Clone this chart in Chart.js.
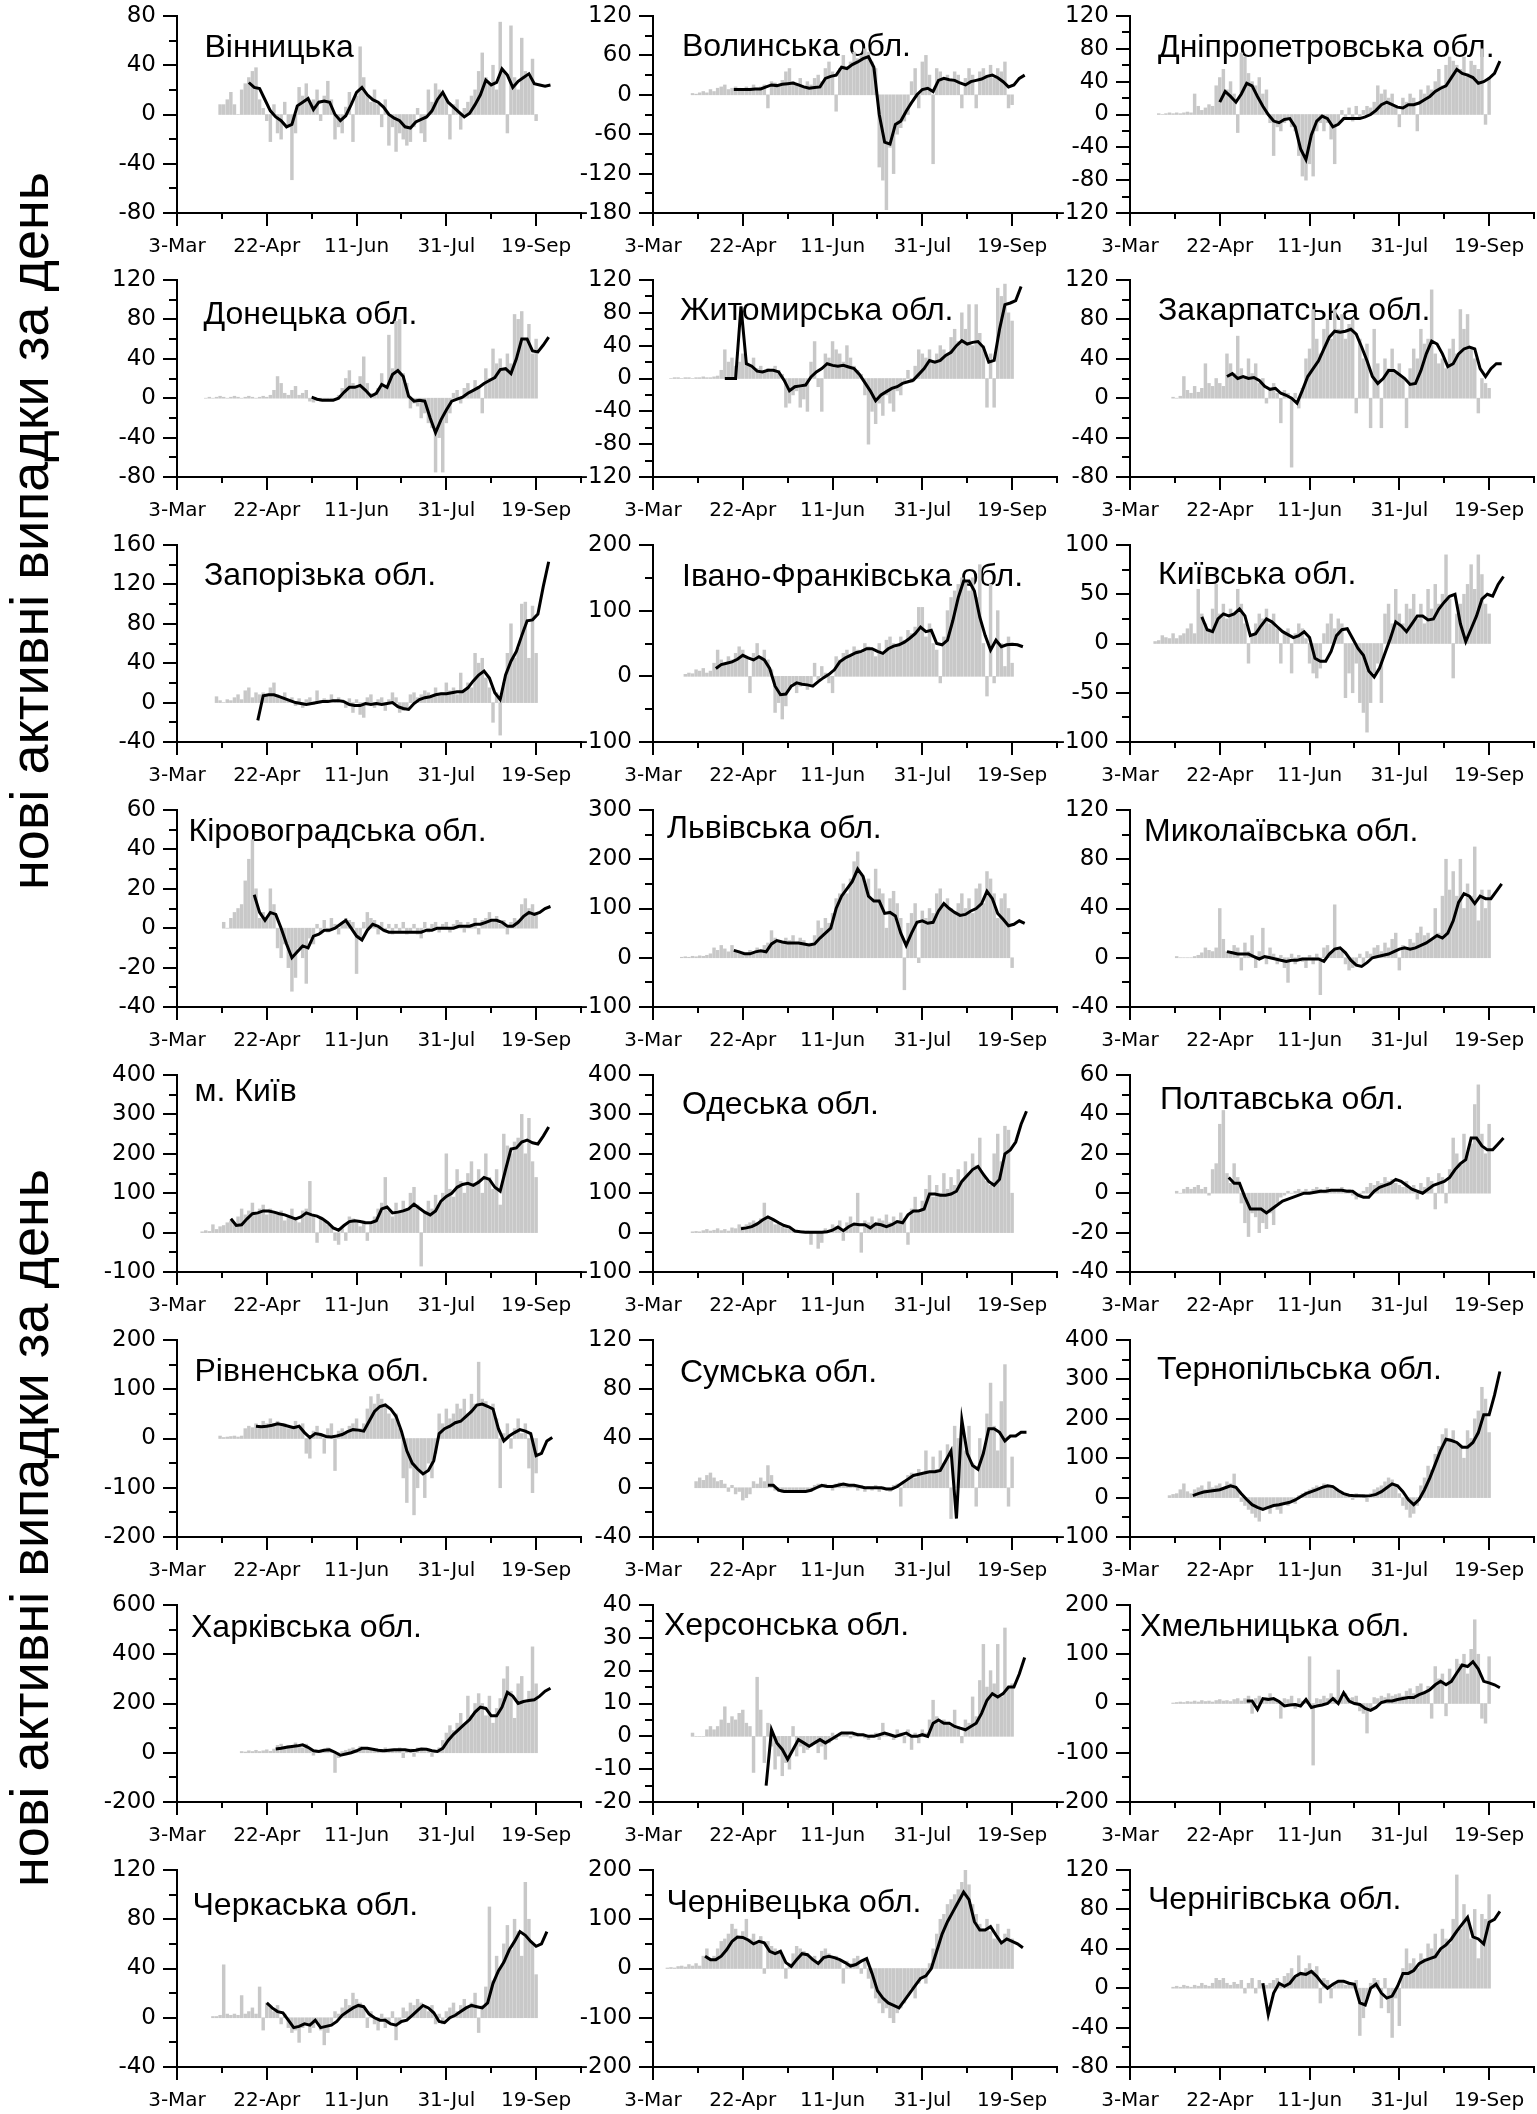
<!DOCTYPE html>
<html><head><meta charset="utf-8">
<script src="https://cdn.jsdelivr.net/npm/chart.js@4.4.1/dist/chart.umd.min.js"></script>
<style>
html,body{margin:0;padding:0;background:#fff;}
#page{position:relative;width:1537px;height:2114px;overflow:hidden;background:#fff;}
#page canvas{position:absolute;}
.ytitle{position:absolute;font-family:'Liberation Sans',Arial,sans-serif;font-size:54px;line-height:1;white-space:nowrap;color:#000;transform:translate(-50%,-50%) rotate(-90deg);}
</style></head>
<body><div id="page"></div>
<script>
// ---------------- DATA ----------------
const regionNames = ['Вінницька','Волинська обл.','Дніпропетровська обл.','Донецька обл.','Житомирська обл.','Закарпатська обл.','Запорізька обл.','Івано-Франківська обл.','Київська обл.','Кіровоградська обл.','Львівська обл.','Миколаївська обл.','м. Київ','Одеська обл.','Полтавська обл.','Рівненська обл.','Сумська обл.','Тернопільська обл.','Харківська обл.','Херсонська обл.','Хмельницька обл.','Черкаська обл.','Чернівецька обл.','Чернігівська обл.'];
const yAxisTitle = 'нові активні випадки за день';
const yMin   = [-80,-180,-120,-80,-120,-80,-40,-100,-100,-40,-100,-40,-100,-100,-40,-200,-40,-100,-200,-20,-200,-40,-200,-80];
const yMax   = [80,120,120,120,120,120,160,200,100,60,300,120,400,400,60,200,120,400,600,40,200,120,200,120];
const yMajor = [40,60,40,40,40,40,40,100,50,20,100,40,100,100,20,100,40,100,200,10,100,40,100,40];
const yMinor = [20,30,20,20,20,20,20,50,25,10,50,20,50,50,10,50,20,50,100,5,50,20,50,20];
// day index 0 = 3-Mar
const barStartDay  = [24,22,16,16,10,24,22,18,14,26,16,26,14,22,26,24,24,22,36,22,24,20,8,24];
const lineStartDay = [40,45,50,75,40,54,45,35,40,43,45,54,30,49,55,44,64,35,55,63,65,50,29,74];
const BAR_STEP_DAYS = 2, LINE_STEP_DAYS = 3;
const xMaxDay = 225;
const xTickDays = [0,25,50,75,100,125,150,175,200,225];
const xLabelDays = [0,50,100,150,200];
const xLabels = ['3-Mar','22-Apr','11-Jun','31-Jul','19-Sep'];

const barsVinnytska = [8,8,12,18,8,0,20,25,30,35,38,12,5,-5,-22,8,-15,-20,10,-10,-53,-15,22,15,25,10,12,20,-5,15,27,12,-20,-10,-15,6,18,-22,15,55,30,15,10,20,8,-10,12,-25,-10,-30,-15,-20,-25,-22,-10,5,-15,-22,20,10,25,20,15,12,-20,8,12,-12,5,10,15,20,35,50,30,25,40,20,75,35,-15,72,30,20,62,35,30,45,-5];
const lineVinnytska = [26,22,21,12,3,-2,-5,-10,-8,7,10,13,4,10,11,10,0,-5,-1,8,18,22,16,12,10,6,0,-3,-5,-10,-11,-6,-4,-2,3,12,18,10,6,2,-2,1,8,16,28,24,26,37,32,22,27,30,33,25,24,23,24];

const barsVolyn = [2,1,3,5,3,8,5,10,12,15,8,10,12,10,8,12,10,15,10,12,15,-20,20,18,15,22,35,40,20,15,25,10,20,15,25,30,20,40,50,35,-25,40,60,40,50,65,55,60,70,65,50,40,-110,-130,-175,-80,-120,-60,-50,-40,-30,20,40,-20,50,60,30,-105,40,35,25,30,20,35,30,-20,25,40,30,-20,35,40,30,45,25,40,35,50,-20,-15];
const lineVolyn = [8,8,8,8,9,9,12,15,14,16,17,18,15,12,10,11,12,25,28,30,42,40,46,50,55,58,42,-30,-72,-75,-45,-40,-25,-12,0,8,10,5,22,25,23,22,18,15,20,22,24,28,30,26,20,12,15,25,30];

const barsDnipro = [1,0,1,2,1,2,1,2,3,2,25,10,5,8,12,10,35,45,55,30,40,25,-22,75,70,50,40,35,45,25,30,-10,-50,-15,-20,-10,-5,-15,-20,-50,-75,-80,-60,-75,-20,-10,-20,-10,-30,-60,-10,5,-5,8,-8,10,-5,5,10,8,15,35,25,30,20,25,10,-15,20,15,25,20,-20,30,25,35,30,40,55,35,60,70,65,60,55,70,50,65,60,55,80,-12,45];
const lineDnipro = [15,28,22,15,25,38,35,22,10,0,-8,-10,-6,-5,-15,-42,-55,-25,-8,-2,-5,-15,-12,-5,-5,-5,-5,-3,0,5,12,15,12,9,8,12,12,14,18,22,28,32,35,45,55,50,48,45,38,40,44,50,65];

const barsDonetsk = [0,1,0,1,2,1,0,1,2,1,0,1,2,1,0,1,2,1,3,8,22,15,5,3,8,12,3,5,8,-3,-4,-2,-3,-1,-2,-2,0,3,10,20,28,15,10,22,42,15,5,3,10,25,12,64,30,78,80,25,15,-10,-5,-8,-20,-15,-25,-30,-75,-40,-75,-25,-15,5,8,-5,10,15,8,18,12,-15,30,20,50,35,40,30,45,35,85,80,88,60,75,45,60];
const lineDonetsk = [1,-1,-2,-2,-2,0,6,11,11,13,8,2,5,14,11,24,28,22,2,-3,-2,-3,-20,-35,-22,-12,-3,-1,1,5,8,11,15,18,21,29,30,25,40,60,60,48,47,54,62];

const barsZhytomyr = [0,1,1,0,1,1,0,1,1,2,1,1,2,3,10,35,20,25,15,20,30,20,15,25,12,15,10,12,8,15,10,5,-35,-30,-20,-15,-35,-25,-40,20,45,-10,-40,30,25,45,35,30,20,40,25,15,10,5,-20,-80,-40,-55,-30,-45,-20,-30,-40,-15,-20,-5,10,-5,15,35,30,25,35,20,30,40,35,30,50,60,45,80,60,90,40,90,55,40,-35,30,-35,110,100,115,80,70];
const lineZhytomyr = [0,0,0,88,18,15,9,8,10,10,8,-2,-15,-10,-9,-8,2,8,12,18,16,15,16,14,12,5,-5,-15,-27,-20,-16,-12,-10,-6,-4,-2,5,12,22,20,22,28,32,40,46,42,44,45,38,20,22,60,90,92,95,112];

const barsZakarpattia = [1,0,2,22,8,5,12,6,10,35,15,12,20,15,12,45,35,25,63,30,20,40,25,35,15,20,-5,10,15,5,-25,8,5,-70,5,-10,10,40,50,90,60,45,70,80,60,90,70,85,60,75,80,-15,60,40,55,-30,70,35,-30,40,30,50,25,35,20,-30,30,50,40,70,55,60,110,45,35,40,30,50,60,45,90,70,85,50,40,-15,20,15,10];
const lineZakarpattia = [22,25,20,22,20,21,18,12,9,10,5,3,0,-5,8,22,30,38,50,62,68,67,68,70,65,52,38,22,15,20,28,28,24,20,14,15,28,45,58,55,45,32,35,45,50,52,50,30,22,30,35,35];

const barsZaporizhzhia = [6,2,0,3,2,5,8,3,12,15,5,10,8,10,8,15,20,8,5,10,3,5,-3,4,-5,3,5,-2,12,2,4,3,8,2,5,3,-5,4,-10,3,-12,-15,5,8,-5,3,5,-8,3,10,5,-10,-8,-5,8,10,5,8,12,10,5,15,8,10,20,12,15,8,30,12,20,15,50,40,45,25,15,-20,10,-33,20,50,80,45,55,100,102,45,98,50];
const lineZaporizhzhia = [-18,7,8,8,6,4,2,0,-1,-2,-1,0,1,1,2,2,1,-2,-3,-3,-1,-2,-1,-2,-1,0,-4,-6,-7,-1,3,5,6,8,9,9,10,11,11,15,22,28,32,25,10,3,28,42,52,68,83,84,90,118,143];

const barsIvanoFrankivsk = [3,5,4,10,8,12,5,8,20,40,25,20,30,25,35,45,40,30,-25,35,50,30,40,25,10,-55,-40,-65,-45,-20,-10,-25,-15,-10,-20,-15,20,-5,15,5,-10,-25,30,25,35,40,30,45,40,35,50,45,40,30,50,35,55,60,50,45,60,55,70,65,75,105,105,60,80,50,40,-10,60,100,120,130,140,150,145,130,150,120,170,50,-30,140,-10,100,50,15,60,20];
const lineIvanoFrankivsk = [12,18,20,22,26,32,28,25,30,25,12,-15,-28,-27,-15,-10,-12,-13,-15,-8,-2,3,10,22,28,32,36,38,42,42,38,35,42,46,48,52,58,65,75,68,70,50,48,55,85,120,145,145,130,90,62,40,55,45,48,49,48,45];

const barsKyivObl = [2,3,8,6,5,10,5,8,10,15,20,10,55,30,20,15,35,60,30,40,25,35,30,55,40,20,-20,10,20,30,25,35,20,30,15,-20,10,15,-30,10,20,15,5,-20,-30,-35,-25,10,20,30,15,25,20,-55,-30,-50,-20,-60,-70,-90,-60,-30,-20,-60,30,40,20,55,30,20,40,35,50,25,40,20,55,35,60,40,50,90,45,-35,30,40,50,60,80,55,90,70,40,30];
const lineKyivObl = [27,14,12,25,30,28,30,35,28,8,10,18,25,22,17,12,9,6,8,12,6,-15,-18,-18,-8,8,14,15,5,-5,-12,-28,-34,-25,-10,5,22,18,12,20,28,28,24,25,35,42,48,50,20,2,15,28,45,50,48,60,68];

const barsKirovohrad = [3,0,5,8,10,12,24,35,45,20,5,8,5,20,12,-10,-15,-8,-20,-32,-25,-10,-15,-28,-5,-8,2,-3,4,-2,5,2,-3,3,5,4,3,-23,-5,3,8,5,4,-3,3,-2,2,-3,2,-2,3,-3,-2,2,-3,-5,3,-2,2,3,-2,2,3,-2,2,4,3,-2,3,2,5,-3,4,5,8,3,6,2,4,-3,3,5,4,12,15,10,12,8];
const lineKirovohrad = [17,8,4,8,7,0,-8,-15,-12,-9,-10,-4,-3,-1,-1,0,2,4,0,-4,-6,-1,2,1,-1,-2,-2,-2,-2,-2,-2,-2,-1,-1,0,0,0,0,1,1,1,2,2,3,4,4,3,1,1,3,6,8,7,8,10,11];

const barsLviv = [1,2,1,3,2,4,3,5,8,20,15,25,18,12,25,15,10,12,8,15,12,20,15,25,30,55,40,35,30,40,35,45,30,40,35,25,30,45,75,60,80,70,90,120,130,150,130,160,195,215,170,150,160,120,180,140,130,60,120,135,110,80,-65,70,90,110,-10,95,80,100,90,130,140,110,120,100,90,110,130,100,120,90,140,150,110,175,160,130,80,120,130,100,-20];
const lineLviv = [15,12,8,8,12,14,12,28,35,32,30,30,30,28,26,28,40,50,60,100,125,140,155,180,165,125,115,115,90,92,85,50,25,50,72,75,70,72,95,110,100,92,86,88,95,100,110,135,120,90,78,65,68,75,70];

const barsMykolaiv = [1,0,0,0,0,1,2,4,8,6,5,8,40,15,5,3,10,8,-10,12,5,18,-8,5,24,-5,8,3,-5,2,-8,-20,3,-5,2,-3,-8,2,-5,3,-30,8,10,5,43,8,5,-5,-10,-8,-5,3,-5,5,3,8,10,5,12,8,15,20,-10,10,8,15,12,20,25,18,20,15,40,20,50,80,55,70,50,80,40,60,50,90,30,55,40,55];
const lineMykolaiv = [5,4,3,3,3,1,-1,1,0,-1,-2,-3,-2,-2,-1,-1,-1,-1,-3,3,7,8,4,-2,-6,-7,-4,0,1,2,3,5,7,8,7,8,10,12,15,18,16,20,30,45,52,50,44,50,48,48,54,60];

const barsKyivCity = [2,5,3,20,8,15,18,25,30,20,40,60,45,55,75,50,60,70,45,60,50,45,55,30,40,60,35,25,55,60,130,45,-25,40,30,20,15,-20,-30,10,-20,40,35,25,15,30,-20,20,40,60,75,140,55,40,75,50,80,60,100,115,70,-85,50,80,60,95,70,100,200,110,90,160,130,100,150,180,120,160,100,200,140,110,160,70,250,220,200,230,240,300,200,290,180,140];
const lineKyivCity = [35,18,20,35,48,50,55,55,52,48,45,40,35,40,50,45,42,35,25,12,6,18,28,30,28,25,25,30,60,65,50,52,55,60,72,62,52,45,55,80,92,100,115,122,125,120,128,140,135,115,105,160,212,215,230,235,228,225,245,268];

const barsOdesa = [2,3,2,5,8,4,6,10,5,8,4,12,10,20,15,20,25,30,25,35,75,40,30,20,25,15,10,8,5,3,5,2,4,-30,3,-40,-25,10,5,20,15,30,-20,25,40,20,100,-50,30,25,40,20,35,30,45,25,40,30,50,35,-30,60,90,50,80,110,145,90,120,100,150,110,140,120,160,130,180,150,200,170,240,150,130,120,200,250,180,270,260,100];
const lineOdesa = [10,12,15,22,32,40,33,25,18,14,4,2,1,1,1,1,2,6,14,5,15,22,20,20,12,22,20,15,20,28,25,45,55,55,60,98,98,95,95,98,105,130,145,160,168,148,130,120,135,200,210,230,275,308];

const barsPoltava = [1,0,2,3,2,3,4,2,3,-1,12,15,35,42,10,5,15,8,-5,-15,-22,-10,-12,-20,-15,-18,-10,-16,-5,-2,-1,1,0,1,2,1,2,1,2,3,2,1,3,2,1,2,3,1,2,-1,-3,-2,1,3,5,4,6,5,8,6,7,5,4,3,6,2,4,-3,5,3,8,6,-8,10,8,-5,12,28,20,15,30,20,25,45,55,30,20,35];
const linePoltava = [8,5,5,-2,-8,-8,-8,-10,-8,-6,-4,-3,-2,-1,0,0,0.5,1,1,1.5,1.5,1.5,1,1,-1,-2,-2,1,3,4,5,7,6,4,2,1,0,2,4,5,6,8,12,15,17,28,28,24,22,22,25,28];

const barsRivne = [5,2,3,4,5,3,5,20,25,22,30,25,35,30,40,30,35,25,30,20,25,35,20,30,-30,-40,15,25,10,-30,20,30,-65,15,20,10,25,30,40,20,30,60,85,70,90,80,70,50,40,50,20,-80,-130,-60,-155,-100,-70,-120,-50,-80,-30,50,30,60,40,50,70,60,80,50,90,70,155,80,75,60,70,40,-100,10,30,-20,20,40,10,30,-60,-110,-70];
const lineRivne = [25,24,25,27,30,28,25,22,25,12,2,10,8,4,3,5,8,14,18,17,15,35,55,65,68,60,45,15,-25,-50,-62,-72,-65,-45,10,20,25,32,35,45,55,68,70,65,60,20,-5,5,12,18,15,10,-35,-30,-5,2];

const barsSumy = [5,8,6,10,12,8,5,6,3,-3,2,-5,-3,-10,-8,-5,5,3,8,5,18,10,-2,-3,-4,-2,-3,-4,-2,-3,-3,-2,-3,2,3,2,3,2,-2,3,4,2,3,1,2,-2,2,-3,1,-2,2,-3,1,-2,-3,2,3,-15,5,10,12,8,15,10,30,12,25,15,30,20,35,-25,50,40,45,30,50,20,-15,40,30,60,85,50,30,70,100,-15,25];
const lineSumy = [2,2,-2,-3,-3,-3,-3,-3,-2,0,2,1,1,2,3,2,2,1,0,0,0,0,-1,-1,1,4,7,10,11,12,13,13,14,22,30,-25,55,28,18,15,28,48,48,45,38,42,42,45,45];

const barsTernopil = [5,8,10,20,35,15,10,20,25,30,20,40,25,30,35,20,40,35,60,20,-10,-20,-30,-40,-50,-60,-30,-25,-40,-20,-30,-40,-15,-20,-10,-15,5,10,15,20,25,30,20,35,30,25,20,15,10,5,8,-5,10,5,8,-10,10,20,25,30,40,50,45,30,10,-20,-30,-50,-40,-20,30,50,80,70,110,130,160,175,150,170,140,130,100,170,150,200,220,280,250,165];
const lineTernopil = [5,10,14,16,18,20,25,30,26,10,-5,-18,-25,-30,-25,-20,-18,-15,-12,-6,2,10,15,20,26,30,28,18,10,6,5,5,4,5,8,15,25,35,30,15,-5,-18,-5,20,50,85,120,148,145,140,128,128,140,165,210,210,260,320];

const barsKharkiv = [5,3,8,5,10,5,8,12,6,15,30,35,20,30,25,40,30,20,35,15,-10,5,10,15,20,10,-80,-20,5,10,15,20,10,25,20,15,10,12,15,8,20,10,15,12,20,-20,10,15,-15,20,10,5,15,-15,10,20,50,80,110,90,120,160,110,230,150,200,240,200,150,230,120,180,220,300,350,250,140,280,310,200,250,430,280];
const lineKharkiv = [15,18,22,25,28,32,22,8,5,10,12,2,-10,-5,0,8,18,18,14,10,8,10,12,12,12,8,10,15,14,8,5,18,50,75,95,115,135,165,185,180,150,150,185,245,230,200,208,212,215,230,250,262];

const barsKherson = [1,0,0,0,2,3,2,3,5,9,4,6,5,7,8,4,3,-11,18,8,-8,4,-3,-10,-6,-12,-8,-10,3,-6,-3,-5,-4,-3,-2,-5,-3,-7,-2,1,-1,1,0.5,1,-0.5,0.5,1,0.5,-0.5,-1,0.5,1,-1,4,1,0.5,-1,2,1,-2,2,-4,1,-2,2,1,5,11,6,4,5,4,3,8,3,-2,5,4,12,6,17,28,15,20,16,28,12,33,15,16];
const lineKherson = [-15,2,-2,-4,-7,-4,-1,-2,-3,-2,-1,-2,-1,0,1,1,1,0.5,0.5,0,0,0.5,1,0.5,0,0.5,1,0,0,0.5,0,4,5,4,4,3,2.5,2,3,4,7,11,13,12,13,15,15,19,24];

const barsKhmelnytskyi = [1,2,3,2,4,3,5,3,6,4,5,3,6,8,5,6,4,8,10,5,10,15,-20,10,15,8,12,20,10,5,-30,10,8,15,-10,10,5,8,95,-125,10,8,15,10,20,12,68,15,20,10,12,15,-15,-20,-60,-10,12,10,15,12,20,15,18,20,15,25,30,20,35,40,25,35,-30,75,50,60,-25,70,50,90,80,100,60,110,170,100,-30,-40,95];
const lineKhmelnytskyi = [5,5,-12,10,8,10,4,-5,-3,-2,-5,8,-8,-5,-3,0,10,0,22,5,0,-2,-10,-14,-8,2,5,5,8,10,12,12,18,22,28,38,45,38,45,62,78,75,85,70,45,42,38,32];

const barsCherkasy = [1,1,2,43,3,2,3,2,18,3,5,8,3,25,-10,12,8,5,10,-5,3,-8,-12,-10,-20,-8,-5,-12,-8,-3,-10,-22,-12,-5,5,3,8,15,10,20,15,12,8,-8,5,-5,-10,3,-8,-5,5,-18,-5,8,5,12,10,15,12,8,5,10,-5,3,-5,5,8,12,5,10,15,8,12,20,-12,10,25,90,30,50,40,60,75,55,80,70,50,110,80,60,35];
const lineCherkasy = [12,8,5,4,-2,-8,-7,-5,-6,-2,-8,-7,-6,-3,2,5,8,10,9,3,0,-2,-2,-5,-6,-3,-2,2,6,10,8,4,-3,-4,0,2,5,8,10,9,8,12,28,38,45,55,62,70,67,62,58,60,70];

const barsChernivtsi = [1,2,1,4,5,3,8,5,10,5,25,40,20,25,40,55,60,70,90,80,65,75,100,60,70,50,65,-10,55,45,40,30,25,-20,10,30,45,40,35,30,20,25,15,35,40,30,20,25,15,-30,15,10,20,25,-10,15,-20,-40,-60,-70,-90,-80,-100,-110,-90,-80,-70,-55,-40,-60,-30,-20,-30,10,40,70,100,110,130,140,150,160,175,200,170,130,110,90,80,100,75,60,90,50,70,80,60];
const lineChernivtsi = [25,18,18,25,38,55,64,63,58,50,55,52,35,30,35,12,4,18,30,28,18,10,22,25,22,18,12,5,8,15,20,-10,-45,-60,-70,-75,-80,-65,-50,-35,-20,-15,0,35,70,95,115,135,155,140,95,78,78,85,68,52,60,55,50,42];

const barsChernihiv = [1,2,1,3,2,1,3,2,5,3,2,5,10,8,10,5,3,6,4,8,-5,5,10,-5,8,5,3,5,8,10,5,12,15,20,10,33,15,20,25,18,22,-15,10,8,-10,5,8,5,3,6,4,8,-48,-30,-10,5,10,8,-20,10,-25,-50,-10,-38,20,40,25,30,20,35,30,45,40,55,35,60,50,45,70,115,60,85,70,50,80,30,75,70,95];
const lineChernihiv = [5,-27,-5,5,2,5,12,15,14,17,12,5,0,4,7,7,5,4,-15,-17,0,4,-5,-10,-8,2,15,15,18,25,28,30,32,40,44,50,58,65,72,52,50,45,67,70,78];

const barSeries = [barsVinnytska,barsVolyn,barsDnipro,barsDonetsk,barsZhytomyr,barsZakarpattia,barsZaporizhzhia,barsIvanoFrankivsk,barsKyivObl,barsKirovohrad,barsLviv,barsMykolaiv,barsKyivCity,barsOdesa,barsPoltava,barsRivne,barsSumy,barsTernopil,barsKharkiv,barsKherson,barsKhmelnytskyi,barsCherkasy,barsChernivtsi,barsChernihiv];
const lineSeries = [lineVinnytska,lineVolyn,lineDnipro,lineDonetsk,lineZhytomyr,lineZakarpattia,lineZaporizhzhia,lineIvanoFrankivsk,lineKyivObl,lineKirovohrad,lineLviv,lineMykolaiv,lineKyivCity,lineOdesa,linePoltava,lineRivne,lineSumy,lineTernopil,lineKharkiv,lineKherson,lineKhmelnytskyi,lineCherkasy,lineChernivtsi,lineChernihiv];

// ---------------- LAYOUT ----------------
const colAxisX = [177, 653, 1130];
const rowTop0 = 15.5, rowPitch = 264.9;
const plotW = 404, plotH = 197;
const axisW = 80, padTop = 16, padRight = 12, xAxisH = 50;
const titleDx = [27.5,29,28, 26.5,27,28, 27,29,28, 11.5,14,14, 17.5,29,30, 17.5,27,27, 14,11,10, 15.5,13.5,18];
const titleDy = [40.5,39.5,40.5, 43.6,39.6,39.6, 39.7,40.7,38.7, 30.8,28.3,30.8, 25.9,38.9,33.9, 41,42,39, 31.6,29.6,31.1, 45.2,42.2,39.2];
const FONT = "'Liberation Sans', Arial, Helvetica, sans-serif";
const TICK_FONT = "'DejaVu Sans', 'Liberation Sans', Arial, sans-serif";

Chart.defaults.font.family = FONT;
Chart.defaults.color = '#000';

const tickMarks = {
  id: 'tickMarks',
  afterDraw(chart, args, opts) {
    const {ctx, chartArea, scales} = chart;
    const x = scales.x, y = scales.y;
    ctx.save();
    ctx.strokeStyle = '#000';
    ctx.lineWidth = 2;
    ctx.beginPath();
    y.ticks.forEach(t => {
      const py = Math.round(y.getPixelForValue(t.value));
      const len = (Math.abs(t.value) % opts.major === 0) ? 14 : 8;
      ctx.moveTo(chartArea.left - len, py); ctx.lineTo(chartArea.left, py);
    });
    x.ticks.forEach(t => {
      const px = Math.round(x.getPixelForValue(t.value));
      const len = xLabelDays.includes(t.value) ? 13 : 6;
      ctx.moveTo(px, chartArea.bottom); ctx.lineTo(px, chartArea.bottom + len);
    });
    ctx.stroke();
    ctx.restore();
  }
};
const panelTitle = {
  id: 'panelTitle',
  beforeDatasetsDraw(chart, args, opts) {
    const {ctx, chartArea} = chart;
    ctx.save();
    ctx.font = '32px ' + FONT;
    ctx.fillStyle = '#000';
    ctx.textBaseline = 'alphabetic';
    ctx.textAlign = 'left';
    ctx.fillText(opts.text, chartArea.left + opts.dx, chartArea.top + opts.dy);
    ctx.restore();
  }
};

const page = document.getElementById('page');

regionNames.forEach((name, i) => {
  const r = Math.floor(i / 3), c = i % 3;
  const plotLeft = colAxisX[c];
  const plotTop = Math.round(rowTop0 + rowPitch * r);
  const cv = document.createElement('canvas');
  const W = axisW + plotW + padRight, H = padTop + plotH + xAxisH;
  cv.width = W; cv.height = H;
  cv.style.width = W + 'px'; cv.style.height = H + 'px';
  cv.style.left = (plotLeft - axisW) + 'px';
  cv.style.top = (plotTop - padTop) + 'px';
  page.appendChild(cv);

  const bars = barSeries[i].map((v, k) => ({x: barStartDay[i] + BAR_STEP_DAYS * k, y: v}));
  const line = lineSeries[i].map((v, k) => ({x: lineStartDay[i] + LINE_STEP_DAYS * k, y: v}));
  const yTicks = [];
  for (let v = yMin[i]; v <= yMax[i] + 1e-9; v += yMinor[i]) yTicks.push(v);
  const major = yMajor[i];

  new Chart(cv, {
    type: 'bar',
    data: {
      datasets: [
        {type: 'line', data: line, borderColor: '#000', borderWidth: 3, pointRadius: 0, tension: 0, fill: false, order: 0},
        {type: 'bar', data: bars, backgroundColor: '#c8c8c8', barThickness: 2.8, order: 1}
      ]
    },
    options: {
      responsive: false,
      animation: false,
      devicePixelRatio: 1,
      layout: {padding: {top: padTop, right: padRight, left: 0, bottom: 0}},
      plugins: {
        legend: {display: false},
        tooltip: {enabled: false},
        tickMarks: {major: major},
        panelTitle: {text: name, dx: titleDx[i], dy: titleDy[i]}
      },
      scales: {
        x: {
          type: 'linear', min: 0, max: xMaxDay, offset: false,
          grid: {display: false, drawTicks: false},
          border: {display: true, color: '#000', width: 2},
          afterBuildTicks: s => { s.ticks = xTickDays.map(v => ({value: v})); },
          afterFit: s => { s.height = xAxisH; s.paddingLeft = 0; s.paddingRight = 0; },
          ticks: {
            autoSkip: false, maxRotation: 0, minRotation: 0, padding: 22,
            color: '#000', font: {family: TICK_FONT, size: 20},
            callback: v => { const k = xLabelDays.indexOf(v); return k >= 0 ? xLabels[k] : ''; }
          }
        },
        y: {
          type: 'linear', min: yMin[i], max: yMax[i],
          grid: {display: false, drawTicks: false},
          border: {display: true, color: '#000', width: 2},
          afterBuildTicks: s => { s.ticks = yTicks.map(v => ({value: v})); },
          afterFit: s => { s.width = axisW; s.paddingTop = 0; s.paddingBottom = 0; },
          ticks: {
            autoSkip: false, padding: 21, color: '#000', font: {family: TICK_FONT, size: 23},
            callback: v => (Math.abs(v) % major === 0) ? String(v) : ''
          }
        }
      }
    },
    plugins: [tickMarks, panelTitle]
  });
});

// shared y-axis titles (two copies, upper and lower halves)
[531, 1528].forEach(cy => {
  const d = document.createElement('div');
  d.className = 'ytitle';
  d.textContent = yAxisTitle;
  d.style.left = '29px';
  d.style.top = cy + 'px';
  page.appendChild(d);
});
</script>
</body></html>
